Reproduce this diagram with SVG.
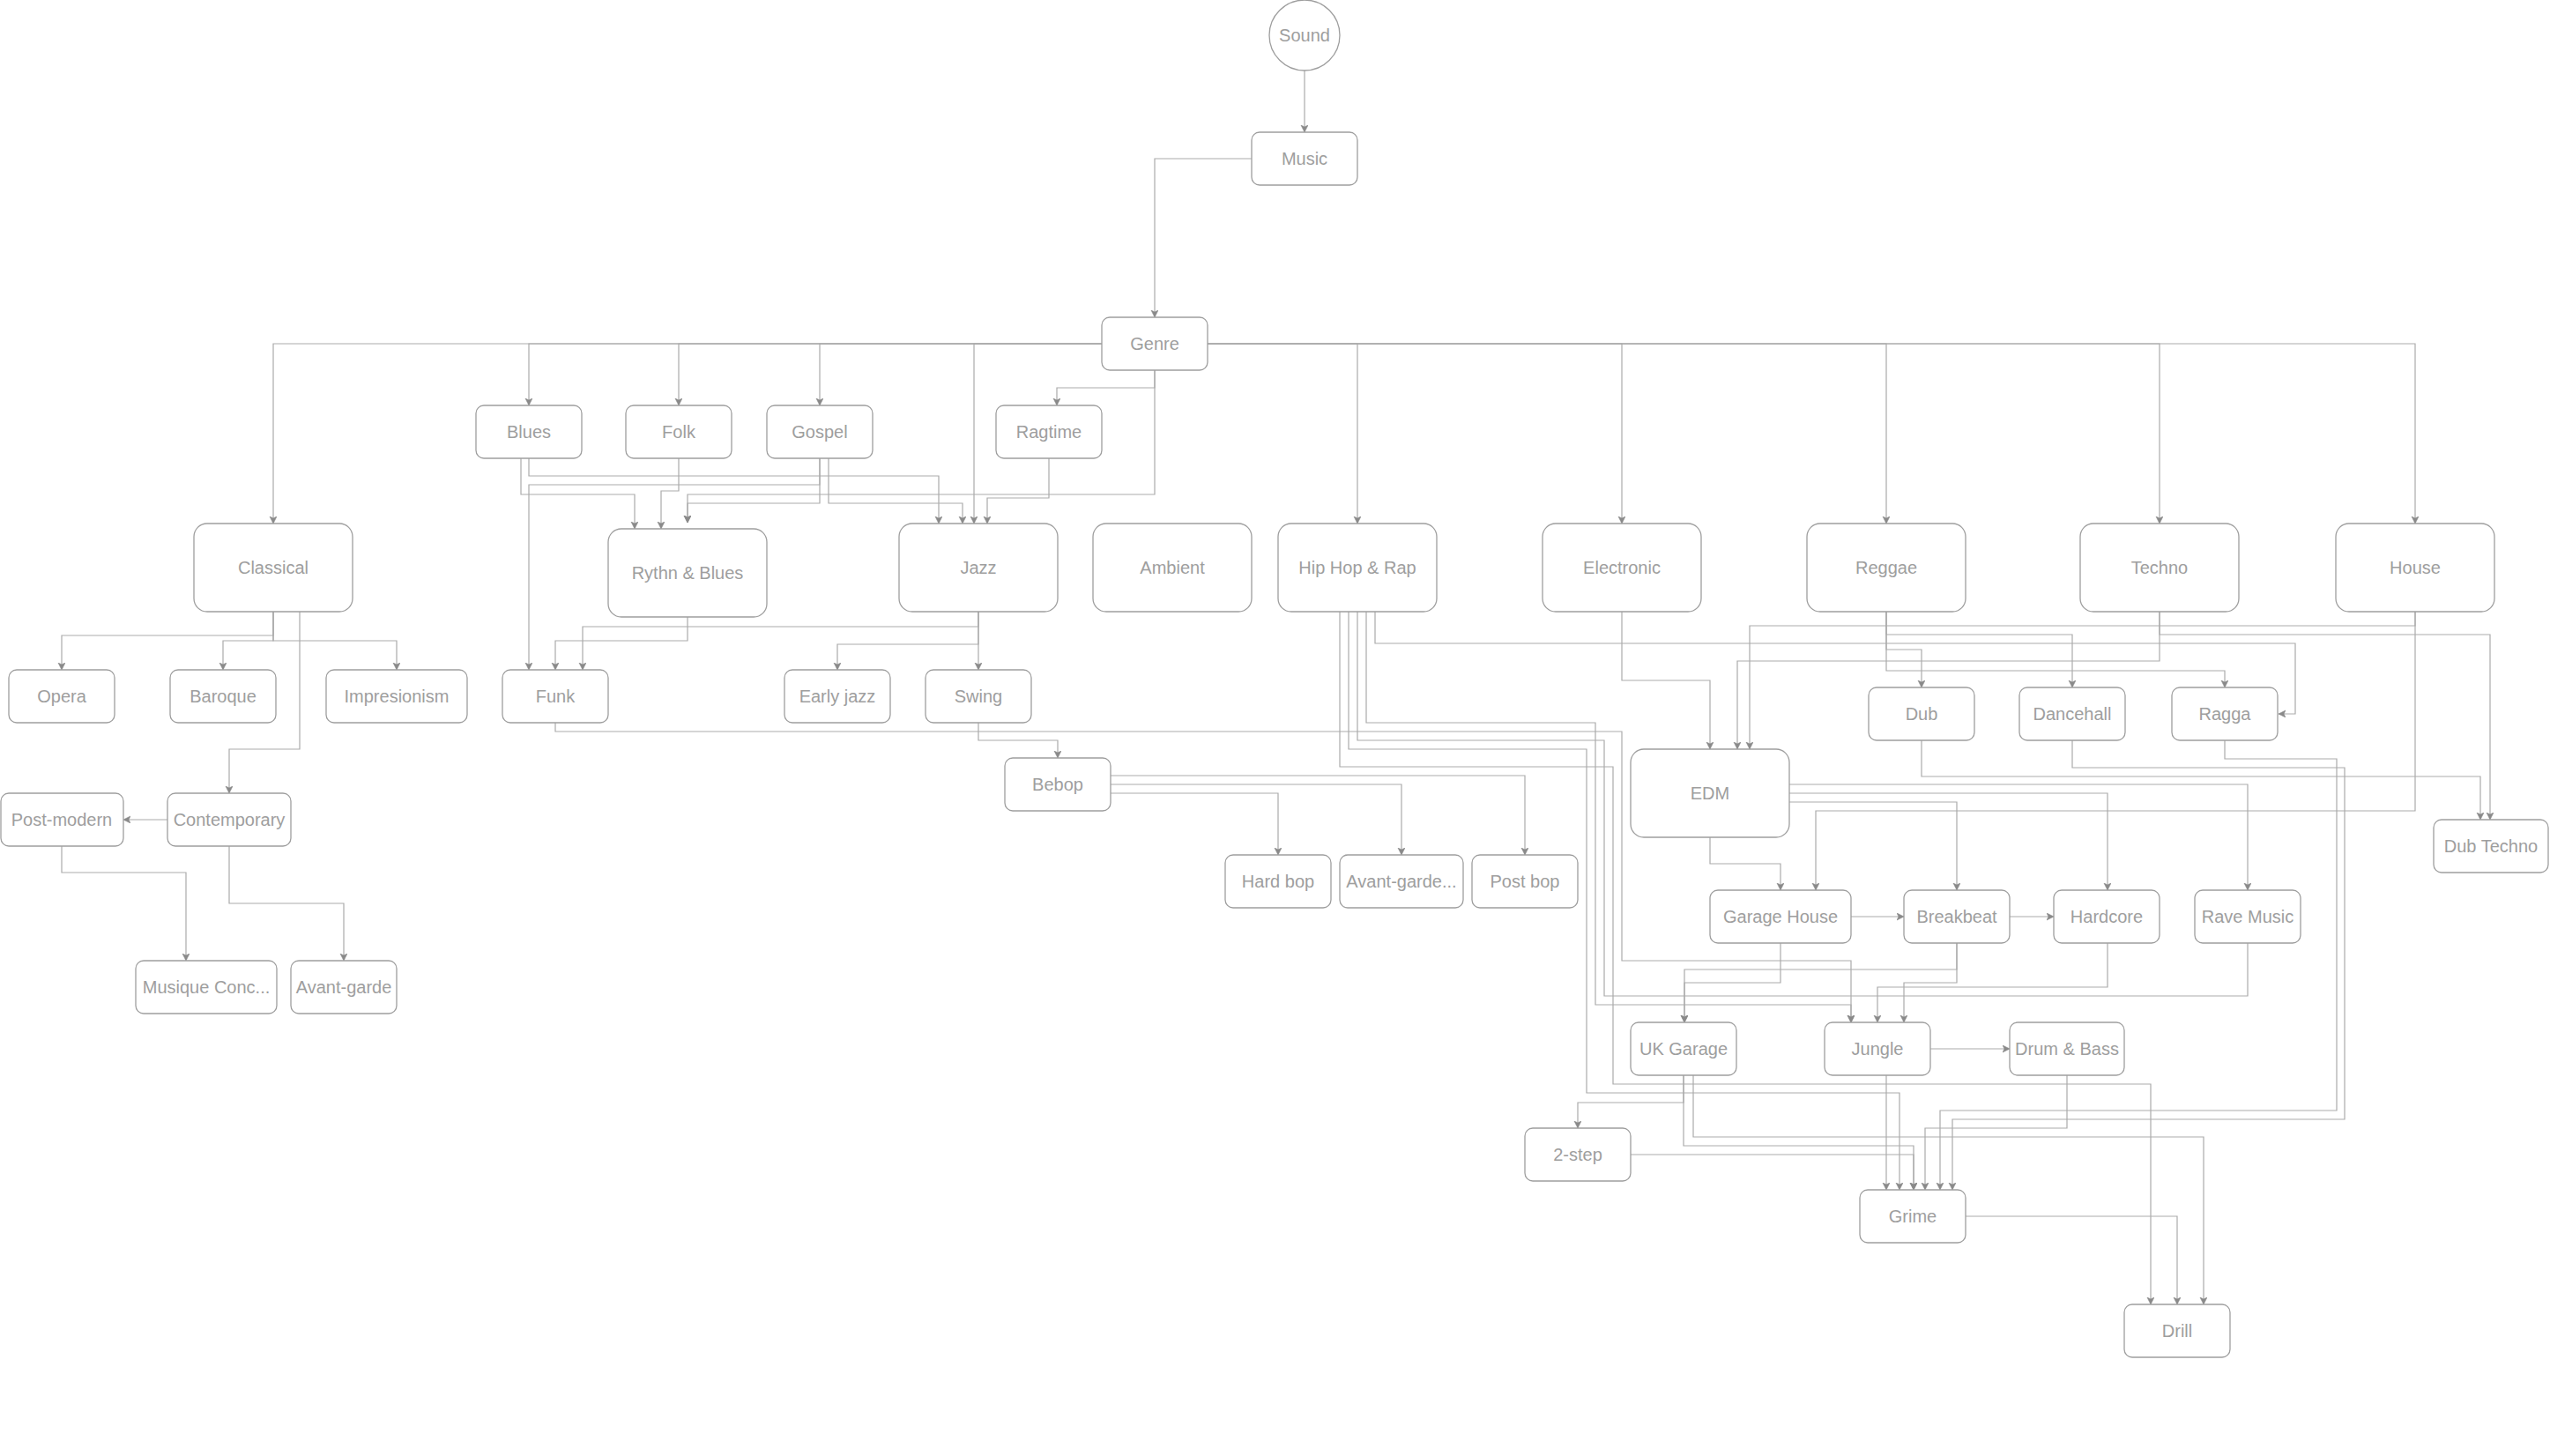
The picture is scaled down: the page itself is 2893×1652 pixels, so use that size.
<svg xmlns="http://www.w3.org/2000/svg" width="2893" height="1652" viewBox="0 0 2893 1652">
<style>
.n rect, .n circle { fill: #ffffff; stroke: #9e9e9e; stroke-width: 1.3; }
.n text { font-family: "Liberation Sans", Helvetica, Arial, sans-serif; font-size: 20px; fill: #9e9e9e; text-anchor: middle; }
.e path { fill: none; stroke: #ababab; stroke-width: 1.2; marker-end: url(#arr); }
.e path.na { marker-end: none; }
</style>
<defs>
<marker id="arr" markerUnits="userSpaceOnUse" markerWidth="10" markerHeight="10" refX="8" refY="4" orient="auto">
<path d="M0,0 L8,4 L0,8 L2,4 Z" fill="#8a8a8a" stroke="#8a8a8a" stroke-width="0.6"/>
</marker>
</defs>
<rect x="0" y="0" width="2893" height="1652" fill="#ffffff"/>
<g id="edges" class="e">
<path d="M1480,80 V150"/>
<path d="M1420,180 H1310 V360"/>
<path d="M1250,390 H310 V594"/>
<path d="M1250,390 H600 V460"/>
<path d="M1250,390 H770 V460"/>
<path d="M1250,390 H930 V460"/>
<path d="M1250,390 H1105 V594"/>
<path d="M1370,390 H1540 V594"/>
<path d="M1370,390 H1840 V594"/>
<path d="M1370,390 H2140 V594"/>
<path d="M1370,390 H2450 V594"/>
<path d="M1370,390 H2740 V594"/>
<path d="M1310,420 V440 H1199 V460"/>
<path d="M1310,420 V561 H780 V593"/>
<path d="M600,520 V540 H1065 V594"/>
<path d="M591,520 V561 H720 V600"/>
<path d="M930,520 V550 H600 V760"/>
<path d="M770,520 V557 H750 V600"/>
<path d="M930,520 V571 H780 V593"/>
<path d="M940,520 V571 H1092 V594"/>
<path d="M1190,520 V565 H1120 V594"/>
<path d="M780,700 V727 H630 V760"/>
<path d="M1110,694 V711 H661 V760"/>
<path d="M1110,694 V731 H950 V760"/>
<path d="M1110,694 V760"/>
<path d="M310,694 V721 H70 V760"/>
<path d="M310,694 V727 H253 V760"/>
<path d="M310,694 V727 H450 V760"/>
<path d="M340,694 V850 H260 V900"/>
<path d="M190,930 H140"/>
<path d="M70,960 V990 H211 V1090"/>
<path d="M260,960 V1025 H390 V1090"/>
<path d="M1110,820 V840 H1200 V860"/>
<path d="M630,820 V830 H1840 V1090 H2100 V1160"/>
<path d="M1260,880 H1730 V970"/>
<path d="M1260,890 H1590 V970"/>
<path d="M1260,900 H1450 V970"/>
<path d="M1840,694 V772 H1940 V850"/>
<path d="M1560,694 V730 H2604 V810 H2585"/>
<path d="M1550,694 V820 H1810 V1140 H2100 V1160"/>
<path class="na" d="M1540,694 V840 H1820 V1130 H2550 V1070"/>
<path d="M1530,694 V850 H1800 V1240 H2155 V1350"/>
<path d="M1520,694 V870 H1830 V1230 H2440 V1480"/>
<path d="M2740,694 V710 H1985 V850"/>
<path d="M2740,694 V920 H2060 V1010"/>
<path d="M2450,694 V750 H1971 V850"/>
<path d="M2450,694 V720 H2825 V930"/>
<path d="M2140,694 V720 H2351 V780"/>
<path d="M2140,694 V737 H2180 V780"/>
<path d="M2140,694 V761 H2524 V780"/>
<path d="M2180,840 V881 H2814 V930"/>
<path d="M2351,840 V871 H2660 V1270 H2215 V1350"/>
<path d="M2524,840 V861 H2651 V1260 H2201 V1350"/>
<path d="M2030,890 H2550 V1010"/>
<path d="M2030,900 H2391 V1010"/>
<path d="M2030,910 H2220 V1010"/>
<path d="M1940,950 V980 H2020 V1010"/>
<path d="M2100,1040 H2160"/>
<path d="M2280,1040 H2330"/>
<path d="M2020,1070 V1115 H1911 V1160"/>
<path d="M2220,1070 V1100 H1911 V1160"/>
<path d="M2220,1070 V1115 H2160 V1160"/>
<path d="M2391,1070 V1120 H2130 V1160"/>
<path d="M2190,1190 H2280"/>
<path d="M2140,1220 V1350"/>
<path d="M1910,1220 V1251 H1790 V1280"/>
<path d="M1910,1220 V1300 H2171 V1350"/>
<path d="M1921,1220 V1290 H2500 V1480"/>
<path d="M1850,1310 H2171 V1350"/>
<path d="M2345,1220 V1280 H2184 V1350"/>
<path d="M2230,1380 H2470 V1480"/>
</g>
<g id="sound" class="n"><circle cx="1480" cy="40" r="40"/><text x="1480" y="47">Sound</text></g>
<g id="music" class="n"><rect x="1420" y="150" width="120" height="60" rx="9"/><text x="1480" y="187">Music</text></g>
<g id="genre" class="n"><rect x="1250" y="360" width="120" height="60" rx="9"/><text x="1310" y="397">Genre</text></g>
<g id="blues" class="n"><rect x="540" y="460" width="120" height="60" rx="9"/><text x="600" y="497">Blues</text></g>
<g id="folk" class="n"><rect x="710" y="460" width="120" height="60" rx="9"/><text x="770" y="497">Folk</text></g>
<g id="gospel" class="n"><rect x="870" y="460" width="120" height="60" rx="9"/><text x="930" y="497">Gospel</text></g>
<g id="ragtime" class="n"><rect x="1130" y="460" width="120" height="60" rx="9"/><text x="1190" y="497">Ragtime</text></g>
<g id="classical" class="n"><rect x="220" y="594" width="180" height="100" rx="15"/><text x="310" y="651">Classical</text></g>
<g id="rnb" class="n"><rect x="690" y="600" width="180" height="100" rx="15"/><text x="780" y="657">Rythn &amp; Blues</text></g>
<g id="jazz" class="n"><rect x="1020" y="594" width="180" height="100" rx="15"/><text x="1110" y="651">Jazz</text></g>
<g id="ambient" class="n"><rect x="1240" y="594" width="180" height="100" rx="15"/><text x="1330" y="651">Ambient</text></g>
<g id="hiphop" class="n"><rect x="1450" y="594" width="180" height="100" rx="15"/><text x="1540" y="651">Hip Hop &amp; Rap</text></g>
<g id="electronic" class="n"><rect x="1750" y="594" width="180" height="100" rx="15"/><text x="1840" y="651">Electronic</text></g>
<g id="reggae" class="n"><rect x="2050" y="594" width="180" height="100" rx="15"/><text x="2140" y="651">Reggae</text></g>
<g id="techno" class="n"><rect x="2360" y="594" width="180" height="100" rx="15"/><text x="2450" y="651">Techno</text></g>
<g id="house" class="n"><rect x="2650" y="594" width="180" height="100" rx="15"/><text x="2740" y="651">House</text></g>
<g id="opera" class="n"><rect x="10" y="760" width="120" height="60" rx="9"/><text x="70" y="797">Opera</text></g>
<g id="baroque" class="n"><rect x="193" y="760" width="120" height="60" rx="9"/><text x="253" y="797">Baroque</text></g>
<g id="impresionism" class="n"><rect x="370" y="760" width="160" height="60" rx="9"/><text x="450" y="797">Impresionism</text></g>
<g id="funk" class="n"><rect x="570" y="760" width="120" height="60" rx="9"/><text x="630" y="797">Funk</text></g>
<g id="earlyjazz" class="n"><rect x="890" y="760" width="120" height="60" rx="9"/><text x="950" y="797">Early jazz</text></g>
<g id="swing" class="n"><rect x="1050" y="760" width="120" height="60" rx="9"/><text x="1110" y="797">Swing</text></g>
<g id="dub" class="n"><rect x="2120" y="780" width="120" height="60" rx="9"/><text x="2180" y="817">Dub</text></g>
<g id="dancehall" class="n"><rect x="2291" y="780" width="120" height="60" rx="9"/><text x="2351" y="817">Dancehall</text></g>
<g id="ragga" class="n"><rect x="2464" y="780" width="120" height="60" rx="9"/><text x="2524" y="817">Ragga</text></g>
<g id="edm" class="n"><rect x="1850" y="850" width="180" height="100" rx="15"/><text x="1940" y="907">EDM</text></g>
<g id="dubtechno" class="n"><rect x="2761" y="930" width="130" height="60" rx="9"/><text x="2826" y="967">Dub Techno</text></g>
<g id="bebop" class="n"><rect x="1140" y="860" width="120" height="60" rx="9"/><text x="1200" y="897">Bebop</text></g>
<g id="postmodern" class="n"><rect x="1" y="900" width="139" height="60" rx="9"/><text x="70" y="937">Post-modern</text></g>
<g id="contemporary" class="n"><rect x="190" y="900" width="140" height="60" rx="9"/><text x="260" y="937">Contemporary</text></g>
<g id="hardbop" class="n"><rect x="1390" y="970" width="120" height="60" rx="9"/><text x="1450" y="1007">Hard bop</text></g>
<g id="avantgardejazz" class="n"><rect x="1520" y="970" width="140" height="60" rx="9"/><text x="1590" y="1007">Avant-garde...</text></g>
<g id="postbop" class="n"><rect x="1670" y="970" width="120" height="60" rx="9"/><text x="1730" y="1007">Post bop</text></g>
<g id="garagehouse" class="n"><rect x="1940" y="1010" width="160" height="60" rx="9"/><text x="2020" y="1047">Garage House</text></g>
<g id="breakbeat" class="n"><rect x="2160" y="1010" width="120" height="60" rx="9"/><text x="2220" y="1047">Breakbeat</text></g>
<g id="hardcore" class="n"><rect x="2330" y="1010" width="120" height="60" rx="9"/><text x="2390" y="1047">Hardcore</text></g>
<g id="ravemusic" class="n"><rect x="2490" y="1010" width="120" height="60" rx="9"/><text x="2550" y="1047">Rave Music</text></g>
<g id="musique" class="n"><rect x="154" y="1090" width="160" height="60" rx="9"/><text x="234" y="1127">Musique Conc...</text></g>
<g id="avantgarde" class="n"><rect x="330" y="1090" width="120" height="60" rx="9"/><text x="390" y="1127">Avant-garde</text></g>
<g id="ukgarage" class="n"><rect x="1850" y="1160" width="120" height="60" rx="9"/><text x="1910" y="1197">UK Garage</text></g>
<g id="jungle" class="n"><rect x="2070" y="1160" width="120" height="60" rx="9"/><text x="2130" y="1197">Jungle</text></g>
<g id="drumbass" class="n"><rect x="2280" y="1160" width="130" height="60" rx="9"/><text x="2345" y="1197">Drum &amp; Bass</text></g>
<g id="twostep" class="n"><rect x="1730" y="1280" width="120" height="60" rx="9"/><text x="1790" y="1317">2-step</text></g>
<g id="grime" class="n"><rect x="2110" y="1350" width="120" height="60" rx="9"/><text x="2170" y="1387">Grime</text></g>
<g id="drill" class="n"><rect x="2410" y="1480" width="120" height="60" rx="9"/><text x="2470" y="1517">Drill</text></g>
</svg>
